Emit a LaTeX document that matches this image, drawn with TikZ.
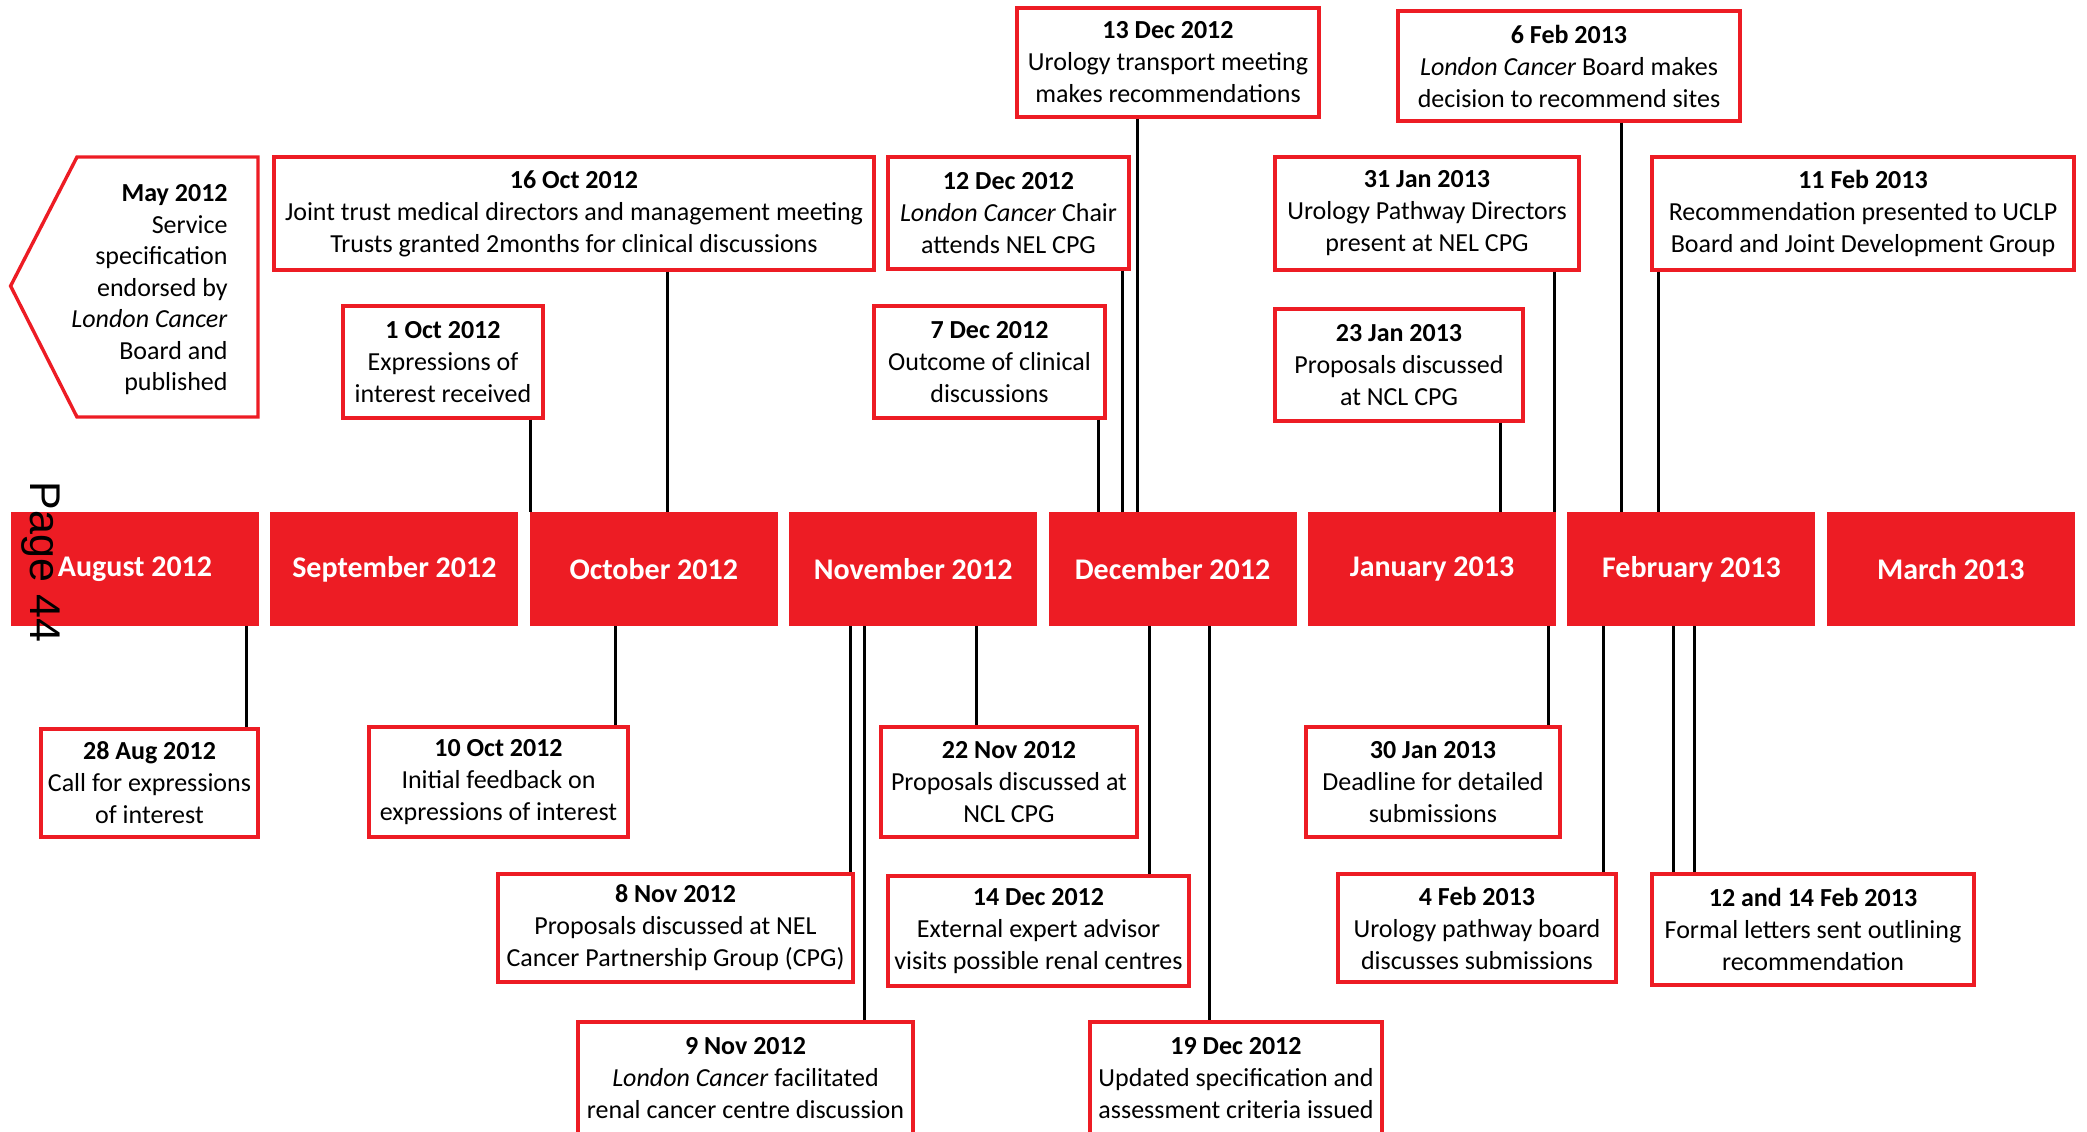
\documentclass[tikz,border=0pt]{standalone}
\usepackage{fontspec}
\setmainfont{Carlito}
\newfontfamily\pagefont{Liberation Sans}
\definecolor{lcred}{HTML}{ED1C24}
\newcommand\evbox[6]{\node[ev, minimum width={(#4-#2)*0.5pt}, minimum height={(#5-#3)*0.5pt}] (#1) at ({(#2+#4)/2},{(#3+#5)/2}) {#6};}
\newcommand\conn[3]{\coordinate (cx) at (#3,0); \draw[conn] (#1 -| cx) -- (#2 -| cx);}
\begin{document}
\begin{tikzpicture}[x=0.5pt,y=-0.5pt,
  ev/.style={draw=lcred, line width=1.7pt, fill=white, align=center, inner sep=0pt, font=\fontsize{13}{16}\selectfont},
  bar/.style={fill=lcred, text=white, inner sep=0pt, font=\fontsize{15}{18}\selectfont\bfseries, minimum width=124pt, minimum height=57pt},
  conn/.style={draw=black, line width=1.5pt}]
\useasboundingbox (0,0) rectangle (2087,1131);
\clip (0,0) rectangle (2087,1131);

% month bars
\node[bar] (aug) at (135,569) {August 2012};
\node[bar] (sep) at (394.4,569) {September 2012};
\node[bar] (oct) at (653.8,569) {October 2012};
\node[bar] (nov) at (913.2,569) {November 2012};
\node[bar] (dec) at (1172.6,569) {December 2012};
\node[bar] (jan) at (1432,569) {January 2013};
\node[bar] (feb) at (1691.4,569) {February 2013};
\node[bar] (mar) at (1950.8,569) {March 2013};

% pentagon
\draw[draw=lcred, line width=1.7pt, line join=miter] (77,157) -- (258,157) -- (258,417) -- (77,417) -- (10.6,286) -- cycle;
\node[align=right, anchor=east, inner sep=0pt, font=\fontsize{13}{15.75}\selectfont] (may) at (228,290) {{\bfseries May 2012}\\Service\\specification\\endorsed by\\\textit{London Cancer}\\Board and\\published};

% page number
\node[rotate=-90, inner sep=0pt, font=\pagefont\fontsize{21.5}{24}\selectfont] (pg) at (41,562) {Page 44};

% top boxes
\evbox{b16oct}{274}{157}{874}{270}{{\bfseries 16 Oct 2012}\\Joint trust medical directors and management meeting\\Trusts granted 2months for clinical discussions}
\evbox{b1oct}{343}{306}{543}{418}{{\bfseries 1 Oct 2012}\\Expressions of\\interest received}
\evbox{b12dec}{888}{157}{1129}{269}{{\bfseries 12 Dec 2012}\\\textit{London Cancer} Chair\\attends NEL CPG}
\evbox{b7dec}{874}{306}{1105}{418}{{\bfseries 7 Dec 2012}\\Outcome of clinical\\discussions}
\evbox{b13dec}{1017}{8}{1319}{117}{{\bfseries 13 Dec 2012}\\Urology transport meeting\\makes recommendations}
\evbox{b31jan}{1275}{157}{1579}{270}{{\bfseries 31 Jan 2013}\\Urology Pathway Directors\\present at NEL CPG}
\evbox{b23jan}{1275}{309}{1523}{421}{{\bfseries 23 Jan 2013}\\Proposals discussed\\at NCL CPG}
\evbox{b6feb}{1398}{11}{1740}{121}{{\bfseries 6 Feb 2013}\\\textit{London Cancer} Board makes\\decision to recommend sites}
\evbox{b11feb}{1652}{157}{2074}{270}{{\bfseries 11 Feb 2013}\\Recommendation presented to UCLP\\Board and Joint Development Group}

% bottom boxes
\evbox{b28aug}{41}{729}{258}{837}{{\bfseries 28 Aug 2012}\\Call for expressions\\of interest}
\evbox{b10oct}{369}{727}{628}{837}{{\bfseries 10 Oct 2012}\\Initial feedback on\\expressions of interest}
\evbox{b22nov}{881}{727}{1137}{837}{{\bfseries 22 Nov 2012}\\Proposals discussed at\\NCL CPG}
\evbox{b8nov}{498}{874}{853}{982}{{\bfseries 8 Nov 2012}\\Proposals discussed at NEL\\Cancer Partnership Group (CPG)}
\evbox{b9nov}{578}{1022}{913}{1134}{{\bfseries 9 Nov 2012}\\\textit{London Cancer} facilitated\\renal cancer centre discussion}
\evbox{b14dec}{888}{876}{1189}{986}{{\bfseries 14 Dec 2012}\\External expert advisor\\visits possible renal centres}
\evbox{b19dec}{1090}{1022}{1382}{1134}{{\bfseries 19 Dec 2012}\\Updated specification and\\assessment criteria issued}
\evbox{b30jan}{1306}{727}{1560}{837}{{\bfseries 30 Jan 2013}\\Deadline for detailed\\submissions}
\evbox{b4feb}{1338}{874}{1616}{982}{{\bfseries 4 Feb 2013}\\Urology pathway board\\discusses submissions}
\evbox{b12feb}{1652}{874}{1974}{985}{{\bfseries 12 and 14 Feb 2013}\\Formal letters sent outlining\\recommendation}

% connectors top
\conn{b1oct.south}{oct.north}{530}
\conn{b16oct.south}{oct.north}{667}
\conn{b7dec.south}{dec.north}{1098}
\conn{b12dec.south}{dec.north}{1122}
\conn{b13dec.south}{dec.north}{1137}
\conn{b23jan.south}{jan.north}{1500}
\conn{b31jan.south}{jan.north}{1554}
\conn{b6feb.south}{feb.north}{1621}
\conn{b11feb.south}{feb.north}{1658}
% connectors bottom
\conn{aug.south}{b28aug.north}{246}
\conn{oct.south}{b10oct.north}{615}
\conn{nov.south}{b8nov.north}{850}
\conn{nov.south}{b9nov.north}{864}
\conn{nov.south}{b22nov.north}{976}
\conn{dec.south}{b14dec.north}{1149}
\conn{dec.south}{b19dec.north}{1209}
\conn{jan.south}{b30jan.north}{1548}
\conn{feb.south}{b4feb.north}{1603}
\conn{feb.south}{b12feb.north}{1673}
\conn{feb.south}{b12feb.north}{1694}
\end{tikzpicture}
\end{document}
